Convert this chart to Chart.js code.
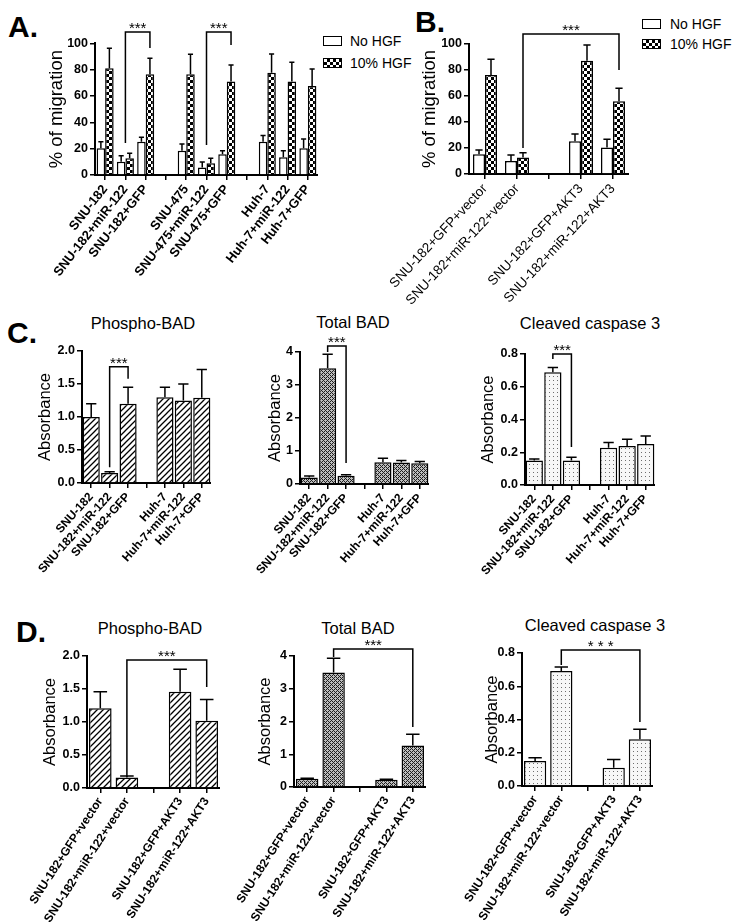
<!DOCTYPE html>
<html><head><meta charset="utf-8">
<script src="https://cdn.jsdelivr.net/npm/chart.js@4.4.0/dist/chart.umd.min.js"></script>
<style>
body{margin:0;background:#fff;width:736px;height:922px;position:relative;overflow:hidden;font-family:Arial,"Liberation Sans",sans-serif;color:#000;}
canvas{position:absolute;}
.lab{position:absolute;font-weight:bold;font-size:30px;line-height:30px;}
.ttl{position:absolute;font-size:16.5px;transform:translate(-50%,-50%);white-space:nowrap;}
.leg{position:absolute;font-size:14px;line-height:14px;white-space:nowrap;}
.box{position:absolute;width:17px;height:8px;border:1.5px solid #000;background:#fff;}
.chk{background:repeating-conic-gradient(#000 0 25%,#fff 0 50%) 0 0/6px 6px;}
</style></head><body>
<div class="lab" style="left:8px;top:12px">A.</div>
<div class="lab" style="left:415px;top:7px">B.</div>
<div class="lab" style="left:7px;top:318px">C.</div>
<div class="lab" style="left:16px;top:617px">D.</div>

<div class="ttl" style="left:143px;top:323px">Phospho-BAD</div>
<div class="ttl" style="left:353px;top:322px">Total BAD</div>
<div class="ttl" style="left:590px;top:323px">Cleaved caspase 3</div>
<div class="ttl" style="left:150px;top:628px">Phospho-BAD</div>
<div class="ttl" style="left:358px;top:628px">Total BAD</div>
<div class="ttl" style="left:595px;top:625px">Cleaved caspase 3</div>

<div class="box" style="left:323px;top:36px"></div><div class="leg" style="left:350px;top:34px">No HGF</div>
<div class="box chk" style="left:323px;top:58px"></div><div class="leg" style="left:350px;top:56px">10% HGF</div>
<div class="box" style="left:642px;top:19px"></div><div class="leg" style="left:670px;top:17px">No HGF</div>
<div class="box chk" style="left:642px;top:39px"></div><div class="leg" style="left:670px;top:37px">10% HGF</div>

<script>
// ---------- DATA ----------
const catA = ['SNU-182','SNU-182+miR-122','SNU-182+GFP','','SNU-475','SNU-475+miR-122','SNU-475+GFP','','Huh-7','Huh-7+miR-122','Huh-7+GFP'];
const A_noHGF     = [20.3,10.1,25.3,null,18.5,5.6,15.7,null,25.3,13.4,20.3];
const A_noHGF_err = [5.0,4.6,3.3,null,5.0,4.3,2.8,null,4.6,5.1,7.0];
const A_HGF       = [81.0,12.7,76.5,null,76.5,8.9,70.9,null,77.7,70.9,67.6];
const A_HGF_err   = [15.2,3.8,12.1,null,15.1,3.8,12.6,null,14.2,14.7,12.9];

const catB = ['SNU-182+GFP+vector','SNU-182+miR-122+vector','','SNU-182+GFP+AKT3','SNU-182+miR-122+AKT3'];
const B_noHGF     = [15.1,10.0,null,25.1,20.3];
const B_noHGF_err = [3.4,4.6,null,5.7,6.4];
const B_HGF       = [76.2,12.6,null,87.2,55.9];
const B_HGF_err   = [12.0,3.8,null,12.0,10.0];

const catC = ['SNU-182','SNU-182+miR-122','SNU-182+GFP','','Huh-7','Huh-7+miR-122','Huh-7+GFP'];
const C_pBAD     = [1.00,0.15,1.20,null,1.30,1.25,1.29];
const C_pBAD_err = [0.20,0.02,0.25,null,0.15,0.25,0.43];
const C_tBAD     = [0.20,3.51,0.25,null,0.66,0.65,0.63];
const C_tBAD_err = [0.04,0.42,0.03,null,0.12,0.06,0.05];
const C_cc3      = [0.149,0.688,0.149,null,0.228,0.238,0.250];
const C_cc3_err  = [0.010,0.029,0.020,null,0.031,0.041,0.049];

const catD = ['SNU-182+GFP+vector','SNU-182+miR-122+vector','','SNU-182+GFP+AKT3','SNU-182+miR-122+AKT3'];
const D_pBAD     = [1.21,0.16,null,1.46,1.02];
const D_pBAD_err = [0.25,0.02,null,0.34,0.32];
const D_tBAD     = [0.25,3.50,null,0.22,1.27];
const D_tBAD_err = [0.02,0.43,null,0.02,0.34];
const D_cc3      = [0.150,0.692,null,0.110,0.281];
const D_cc3_err  = [0.020,0.024,null,0.050,0.060];

const ticksMigration = {min:0,max:100,step:20};
const ticksPBAD = {min:0,max:2,step:0.5};
const ticksTBAD = {min:0,max:4,step:1};
const ticksCC3  = {min:0,max:0.8,step:0.2};

// ---------- PATTERNS ----------
function tile(w,h,draw){const c=document.createElement('canvas');c.width=w;c.height=h;const x=c.getContext('2d');draw(x);return x.createPattern(c,'repeat');}
const checker = tile(6,6,x=>{x.fillStyle='#fff';x.fillRect(0,0,6,6);x.fillStyle='#000';x.fillRect(0,0,3,3);x.fillRect(3,3,3,3);});
const hatch = tile(6,6,x=>{x.fillStyle='#fff';x.fillRect(0,0,6,6);x.strokeStyle='#000';x.lineWidth=1.3;x.beginPath();x.moveTo(-1,7);x.lineTo(7,-1);x.moveTo(-1,1);x.lineTo(1,-1);x.moveTo(5,7);x.lineTo(7,5);x.stroke();});
const cross = tile(4,4,x=>{for(let i=0;i<4;i++)for(let j=0;j<4;j++){x.fillStyle=((i+j)%4===0||((i-j+4)%4===0))?'#1e1e1e':'#bdbdbd';x.fillRect(i,j,1,1);}});
const dots = tile(4,4,x=>{x.fillStyle='#f7f7f7';x.fillRect(0,0,4,4);x.fillStyle='#6e6e6e';x.fillRect(1,1,1,1);});

// ---------- PLUGINS ----------
const BR = {};
const errPlugin = {id:'errbars',afterDatasetsDraw(chart){
  const ctx=chart.ctx, ys=chart.scales.y;
  chart.data.datasets.forEach((ds,di)=>{
    if(!ds.errors) return;
    const meta=chart.getDatasetMeta(di);
    meta.data.forEach((bar,i)=>{
      const v=ds.data[i], e=ds.errors[i];
      if(v==null||e==null) return;
      const yt=ys.getPixelForValue(v+e), hw=bar.width*0.3;
      ctx.save();ctx.strokeStyle='#000';ctx.lineWidth=1.5;ctx.beginPath();
      ctx.moveTo(bar.x,bar.y);ctx.lineTo(bar.x,yt);ctx.moveTo(bar.x-hw,yt);ctx.lineTo(bar.x+hw,yt);ctx.stroke();ctx.restore();
    });
  });
}};
const brPlugin = {id:'brk',afterDatasetsDraw(chart){
  const list=BR[chart.canvas.id]||[]; const ctx=chart.ctx, ys=chart.scales.y, xs=chart.scales.x;
  const px=a=>a.d===undefined?xs.getPixelForValue(a.i):chart.getDatasetMeta(a.d).data[a.i].x;
  list.forEach(b=>{
    const x1=px(b.l),x2=px(b.r),yt=ys.getPixelForValue(b.top),y1=ys.getPixelForValue(b.lb),y2=ys.getPixelForValue(b.rb);
    ctx.save();ctx.strokeStyle='#000';ctx.lineWidth=1.5;ctx.beginPath();
    ctx.moveTo(x1,y1);ctx.lineTo(x1,yt);ctx.lineTo(x2,yt);ctx.lineTo(x2,y2);ctx.stroke();
    ctx.fillStyle='#000';ctx.font='15px Arial, "Liberation Sans"';ctx.textAlign='center';ctx.textBaseline='alphabetic';
    ctx.fillText(b.text,(x1+x2)/2,yt+1);ctx.restore();
  });
}};

// ---------- FACTORY ----------
function make(id,g,labels,datasets,tk,yTitle,opt){
  const c=document.createElement('canvas');c.id=id;
  const W=g.right-g.cl, H=g.cb-g.ct;
  c.width=W;c.height=H;c.style.left=g.cl+'px';c.style.top=g.ct+'px';c.style.width=W+'px';c.style.height=H+'px';
  document.body.appendChild(c);
  const padTop=g.yMax-g.ct, xh=g.cb-g.yZero, yw=g.axis-g.cl;
  const lh=opt.tsize*1.2;
  new Chart(c,{type:'bar',data:{labels,datasets},plugins:[errPlugin,brPlugin],
    options:{responsive:false,animation:false,devicePixelRatio:1,
      layout:{padding:{top:padTop,left:0,right:0,bottom:0}},
      datasets:{bar:{categoryPercentage:opt.cat,barPercentage:opt.bar,borderColor:'#000',borderWidth:1.5}},
      plugins:{legend:{display:false},tooltip:{enabled:false}},
      scales:{
        x:{type:'category',offset:true,
          grid:{display:true,drawOnChartArea:false,drawTicks:true,tickLength:5,offset:false,color:'#000',lineWidth:1.5},
          border:{display:true,color:'#000',width:2},
          ticks:{autoSkip:false,minRotation:opt.rot,maxRotation:opt.rot,padding:2,color:'#000',
            font:{family:'Arial, "Liberation Sans"',size:opt.xsize,weight:opt.xweight}},
          afterFit(s){s.height=xh;s.paddingLeft=0;s.paddingRight=0;}},
        y:{min:tk.min,max:tk.max,
          ticks:{stepSize:tk.step,color:'#000',padding:2,font:{family:'Arial, "Liberation Sans"',size:opt.ysize,weight:'bold'},
            callback:v=>opt.dec?v.toFixed(opt.dec):String(v)},
          grid:{drawOnChartArea:false,drawTicks:true,tickLength:5,color:'#000',lineWidth:1.5},
          border:{display:true,color:'#000',width:2},
          title:{display:true,text:yTitle,color:'#000',font:{family:'Arial, "Liberation Sans"',size:opt.tsize},
            padding:{top:g.tx-g.cl-lh/2,bottom:0}},
          afterFit(s){s.width=yw;s.paddingTop=0;s.paddingBottom=0;}}
      }}});
}

// Panel A
BR.pA=[{l:{i:1},r:{i:2,d:1},top:108.6,lb:24.3,rb:96.4,text:'***'},
       {l:{i:5},r:{i:6,d:1},top:108.6,lb:22.8,rb:98.7,text:'***'}];
make('pA',{cl:10,ct:8,axis:95,right:318,yMax:43.3,yZero:175,cb:300,tx:57},catA,
  [{data:A_noHGF,errors:A_noHGF_err,backgroundColor:'#fff'},{data:A_HGF,errors:A_HGF_err,backgroundColor:checker}],
  ticksMigration,'% of migration',{cat:0.84,bar:1,rot:52,xsize:13,xweight:'bold',ysize:12.5,tsize:18.5,dec:0});

// Panel B
BR.pB=[{l:{i:1,d:1},r:{i:4,d:1},top:107.7,lb:20,rb:80,text:'***'}];
make('pB',{cl:380,ct:8,axis:469,right:629,yMax:44,yZero:174,cb:315,tx:430},catB,
  [{data:B_noHGF,errors:B_noHGF_err,backgroundColor:'#fff'},{data:B_HGF,errors:B_HGF_err,backgroundColor:checker}],
  ticksMigration,'% of migration',{cat:0.75,bar:1,rot:47,xsize:13.5,xweight:'normal',ysize:12.5,tsize:18.5,dec:0});

// Panel C
BR.pC1=[{l:{i:1},r:{i:2},top:1.76,lb:0.24,rb:1.58,text:'***'}];
make('pC1',{cl:5,ct:335,axis:82,right:211,yMax:351,yZero:483,cb:600,tx:45},catC,
  [{data:C_pBAD,errors:C_pBAD_err,backgroundColor:hatch}],ticksPBAD,'Absorbance',
  {cat:0.93,bar:1,rot:48,xsize:12,xweight:'bold',ysize:12.5,tsize:16.5,dec:1});
BR.pC2=[{l:{i:1},r:{i:2},top:4.18,lb:4.0,rb:0.64,text:'***'}];
make('pC2',{cl:225,ct:330,axis:300,right:429,yMax:352,yZero:484,cb:600,tx:275},catC,
  [{data:C_tBAD,errors:C_tBAD_err,backgroundColor:cross}],ticksTBAD,'Absorbance',
  {cat:0.93,bar:1,rot:48,xsize:12,xweight:'bold',ysize:12.5,tsize:16.5,dec:0});
BR.pC3=[{l:{i:1},r:{i:2},top:0.8,lb:0.77,rb:0.232,text:'***'}];
make('pC3',{cl:440,ct:335,axis:525,right:655,yMax:354,yZero:485,cb:600,tx:488},catC,
  [{data:C_cc3,errors:C_cc3_err,backgroundColor:dots}],ticksCC3,'Absorbance',
  {cat:0.93,bar:1,rot:48,xsize:12,xweight:'bold',ysize:12.5,tsize:16.5,dec:1});

// Panel D
BR.pD1=[{l:{i:1},r:{i:4},top:1.94,lb:0.167,rb:1.53,text:'***'}];
make('pD1',{cl:5,ct:640,axis:87,right:220,yMax:656,yZero:788,cb:922,tx:50},catD,
  [{data:D_pBAD,errors:D_pBAD_err,backgroundColor:hatch}],ticksPBAD,'Absorbance',
  {cat:0.85,bar:1,rot:57,xsize:12,xweight:'bold',ysize:12.5,tsize:16.5,dec:1});
BR.pD2=[{l:{i:1},r:{i:4},top:4.21,lb:3.97,rb:1.83,text:'***'}];
make('pD2',{cl:225,ct:630,axis:294,right:426,yMax:656,yZero:787,cb:922,tx:265},catD,
  [{data:D_tBAD,errors:D_tBAD_err,backgroundColor:cross}],ticksTBAD,'Absorbance',
  {cat:0.85,bar:1,rot:57,xsize:12,xweight:'bold',ysize:12.5,tsize:16.5,dec:0});
BR.pD3=[{l:{i:1},r:{i:4},top:0.818,lb:0.728,rb:0.385,text:'* * *'}];
make('pD3',{cl:440,ct:630,axis:522,right:653,yMax:653,yZero:786,cb:922,tx:492},catD,
  [{data:D_cc3,errors:D_cc3_err,backgroundColor:dots}],ticksCC3,'Absorbance',
  {cat:0.85,bar:1,rot:57,xsize:12,xweight:'bold',ysize:12.5,tsize:16.5,dec:1});
</script>
</body></html>
